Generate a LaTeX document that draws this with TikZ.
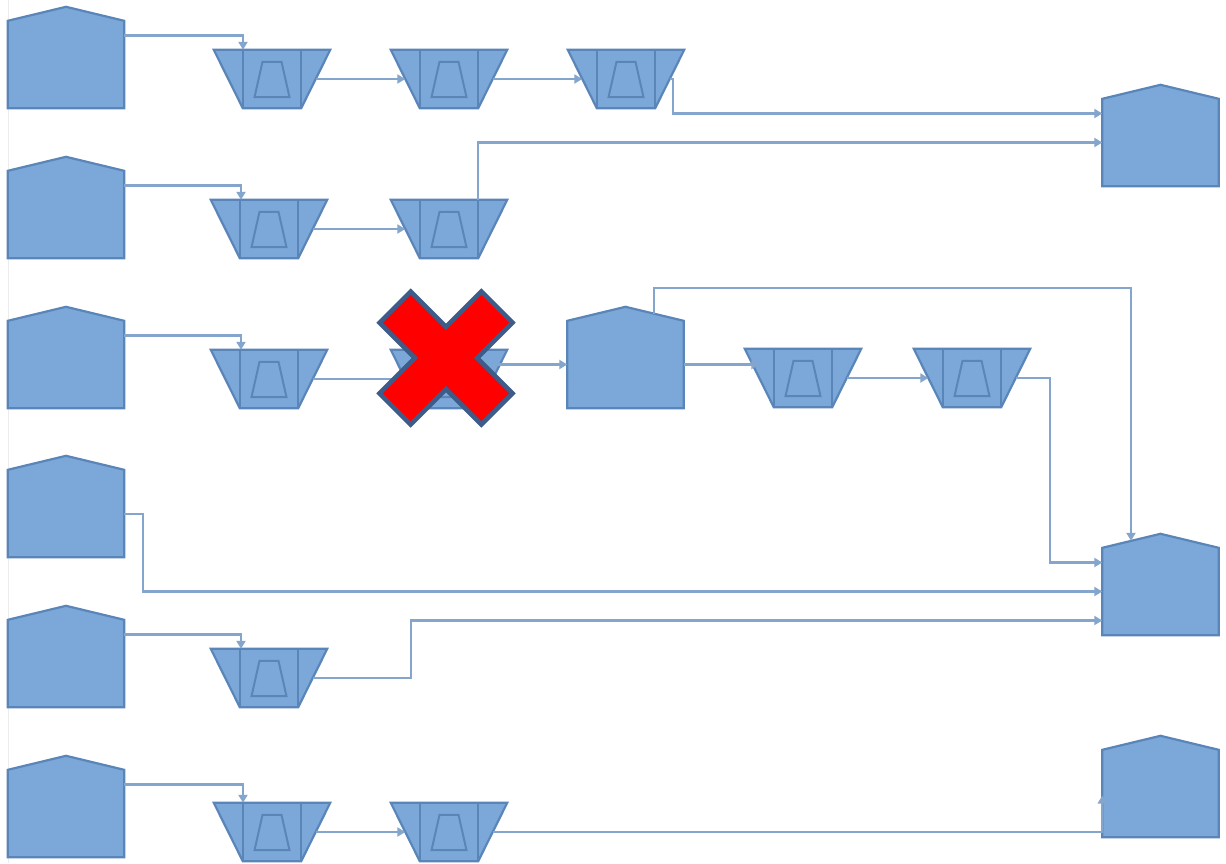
\documentclass[tikz,border=0pt]{standalone}
\usetikzlibrary{arrows.meta}
\definecolor{binfill}{HTML}{7BA7D9}
\definecolor{binedge}{HTML}{5A85B8}
\definecolor{pipeblue}{HTML}{84A5CC}
\definecolor{crossred}{HTML}{FF0000}
\definecolor{crossedge}{HTML}{3D5C8A}

\tikzset{
  shedbox/.style={inner sep=0pt, minimum width=116pt, minimum height=101pt},
  binbox/.style={inner sep=0pt, minimum width=87pt, minimum height=58pt},
  body/.style={fill=binfill, draw=binedge, line width=2.2pt, line join=miter},
  trim/.style={draw=binedge, line width=2pt, line join=miter},
  flow/.style={draw=pipeblue, line width=2.2pt, -{Triangle[length=8pt,width=9pt]}},
}

% storage shed: box with a pitched roof
\newcommand{\drawshed}[2]{%
  \node[shedbox] (#1) at (#2) {};
  \draw[body] (#1.south west) -- ([yshift=-14pt]#1.north west) -- (#1.north)
    -- ([yshift=-14pt]#1.north east) -- (#1.south east) -- cycle;}

% hopper: wide top, narrow bottom, inner bin
\newcommand{\drawbin}[2]{%
  \node[binbox] (#1) at (#2) {};
  \draw[body] ([xshift=-14.5pt]#1.north west) -- ([xshift=14.5pt]#1.north east)
    -- ([xshift=-14.5pt]#1.south east) -- ([xshift=14.5pt]#1.south west) -- cycle;
  \draw[trim] ([xshift=14.5pt]#1.north west) -- ([xshift=14.5pt]#1.south west)
    ([xshift=-14.5pt]#1.north east) -- ([xshift=-14.5pt]#1.south east);
  \draw[trim] ([xshift=-9.5pt,yshift=-12pt]#1.north) -- ([xshift=9.5pt,yshift=-12pt]#1.north)
    -- ([xshift=17.5pt,yshift=11pt]#1.south) -- ([xshift=-17.5pt,yshift=11pt]#1.south) -- cycle;}

\begin{document}
\begin{tikzpicture}[x=1pt, y=-1pt]
  \fill[white] (0,0) rectangle (1226,863);
  \useasboundingbox (0,0) rectangle (1226,863);
  \draw[gray!15, line width=1pt] (8,0) -- (8,863);

  % sources on the left
  \drawshed{src1}{66,57.5}
  \drawshed{src2}{66,207.5}
  \drawshed{src3}{66,357.5}
  \drawshed{src4}{66,506.5}
  \drawshed{src5}{66,656.5}
  \drawshed{src6}{66,806.5}

  % sinks on the right and the middle shed
  \drawshed{snk1}{1160.5,135.5}
  \drawshed{snk2}{1160.5,584.5}
  \drawshed{snk3}{1160.5,786.5}
  \drawshed{mid}{625.5,357.5}

  % hoppers
  \drawbin{h11}{272,79}
  \drawbin{h12}{449,79}
  \drawbin{h13}{626,79}
  \drawbin{h21}{269,229}
  \drawbin{h22}{449,229}
  \drawbin{h31}{269,379}
  \drawbin{h32}{449,379}
  \drawbin{h33}{803,378}
  \drawbin{h34}{972,378}
  \drawbin{h51}{269,678}
  \drawbin{h61}{272,832}
  \drawbin{h62}{449,832}

  % row 1
  \draw[flow] ([yshift=22pt]src1.east) -| ([xshift=-29pt]h11.north);
  \draw[flow] (h11.east) -- (h12.west);
  \draw[flow] (h12.east) -- (h13.west);
  \draw[flow] (h13.east) -- ++(3,0) |- ([yshift=22pt]snk1.west);
  % row 2
  \draw[flow] ([yshift=22pt]src2.east) -| ([xshift=-28pt]h21.north);
  \draw[flow] (h21.east) -- (h22.west);
  \draw[flow] ([xshift=29pt]h22.north) |- ([yshift=-7pt]snk1.west);
  % row 3
  \draw[flow] ([yshift=22pt]src3.east) -| ([xshift=-28pt]h31.north);
  \draw[flow] (h31.east) -- (h32.west);
  \draw[flow] ([yshift=-7pt]mid.west -| h32.east) -- ([yshift=-7pt]mid.west);
  \draw[flow] ([xshift=28.5pt,yshift=-7pt]mid.north) -- ++(0,-26)
    -| ([xshift=-29.5pt,yshift=-7pt]snk2.north);
  \draw[flow] ([yshift=-7pt]mid.east) -- ([yshift=-7pt]mid.east -| h33.west);
  \draw[flow] (h33.east) -- (h34.west);
  \draw[flow] (h34.east) -- ++(34,0) |- ([yshift=22pt]snk2.west);
  % row 4
  \draw[flow] ([yshift=-7.5pt]src4.east) -- ++(19,0) |- ([yshift=-7pt]snk2.west);
  % row 5
  \draw[flow] ([yshift=22pt]src5.east) -| ([xshift=-28pt]h51.north);
  \draw[flow] (h51.east) -- ++(98.5,0) |- ([yshift=-36pt]snk2.west);
  % row 6
  \draw[flow] ([yshift=22pt]src6.east) -| ([xshift=-29pt]h61.north);
  \draw[flow] (h61.east) -- (h62.west);
  \draw[flow] (h62.east) -- (h62.east -| snk3.west) -- ([yshift=-9pt]snk3.west);

  % blocked hopper
  \begin{scope}[shift={(446,358)}, rotate=45]
    \filldraw[fill=crossred, draw=crossedge, line width=4.5pt, line join=miter]
      (22,72) -- (-22,72) -- (-22,22) -- (-72,22) -- (-72,-22) -- (-22,-22)
      -- (-22,-72) -- (22,-72) -- (22,-22) -- (72,-22) -- (72,22) -- (22,22) -- cycle;
  \end{scope}
\end{tikzpicture}
\end{document}
